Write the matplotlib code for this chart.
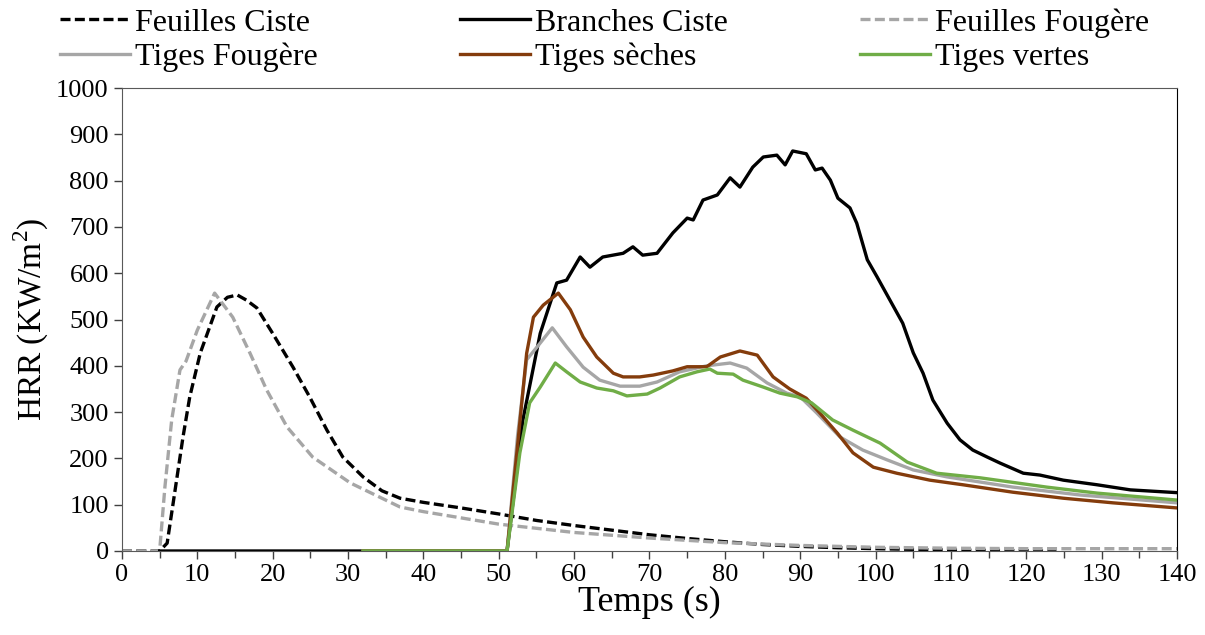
import matplotlib.pyplot as plt
from matplotlib.ticker import MultipleLocator

plt.rcParams['font.family'] = ['Liberation Serif', 'DejaVu Serif']
plt.rcParams['mathtext.fontset'] = 'custom'
plt.rcParams['mathtext.rm'] = 'Liberation Serif'

# Feuilles Ciste (black dashed)
t_fc = [0, 5, 6, 6.8, 8.1, 9, 10.4, 12.6, 14, 15.3, 16.5, 17.9, 20, 22.7, 24.9,
        27.2, 29.3, 32, 34.5, 36.9, 40, 45, 50, 55, 60, 65, 70, 75, 80, 85,
        90, 95, 100, 110, 118, 124]
v_fc = [0, 0, 17, 104, 246, 333, 428, 527, 548, 553, 542, 525, 470, 397, 333,
        261, 203, 160, 130, 114, 105, 93, 80, 66, 55, 45, 35, 27, 20, 14,
        10, 7, 5, 2, 1, 0]

# Feuilles Fougère (grey dashed)
t_ff = [0, 5, 5.7, 6.6, 7.7, 8.5, 10, 12.3, 14.7, 17, 19.2, 21.9, 25.3, 30.3,
        36.9, 40, 50, 60, 70, 80, 90, 100, 110, 120, 130, 140]
v_ff = [0, 0, 138, 283, 391, 410, 477, 557, 505, 427, 348, 268, 203, 147,
        95, 85, 58, 40, 28, 18, 12, 8, 6, 5, 5, 5]

# Branches Ciste (black solid)
t_bc = [5, 51.1, 53.2, 55.5, 57.7, 59, 60.8, 62.1, 63.8, 66.5, 67.8, 69.1, 71,
        73.1, 75, 75.8, 77.1, 79, 80.7, 82, 83.7, 85.1, 86.9, 88, 89, 90.8,
        92, 92.9, 94, 95, 96.6, 97.5, 98.9, 100.2, 101.9, 103.6, 105, 106.3,
        107.6, 109.5, 111.2, 112.9, 114.8, 116.5, 119.6, 121.8, 124.9, 129.4,
        133.8, 140]
v_bc = [0, 0, 283, 470, 579, 585, 635, 613, 635, 643, 657, 639, 643,
        687, 719, 715, 758, 769, 806, 786, 829, 851, 855, 834, 864, 858,
        823, 827, 801, 762, 741, 708, 629, 592, 542, 492, 428, 384,
        326, 276, 240, 218, 203, 190, 168, 164, 153, 143,
        132, 126]

# Tiges Fougère (grey solid)
t_tf = [32, 51.1, 52.5, 53.7, 55.1, 57.1, 59, 61.2, 63.4, 66.1, 68.7, 71, 74,
        77.6, 80.7, 82.9, 85.6, 88.2, 90, 92.2, 95.3, 98.3, 101.5, 105, 109.5,
        118.2, 127.1, 140]
v_tf = [0, 0, 250, 413, 441, 482, 441, 397, 369, 356, 356, 365, 387,
        400, 406, 395, 363, 341, 333, 298, 246, 218, 197, 175, 160,
        138, 121, 104]

# Tiges sèches (brown)
t_ts = [32, 51.1, 52.4, 53.7, 54.6, 55.9, 57.9, 59.5, 61.2, 63, 65.2, 66.5,
        68.7, 70.5, 73.1, 75, 77.6, 79.4, 82, 84.3, 86.4, 88.6, 90.8, 92.6,
        94.9, 97, 99.7, 102.8, 107.2, 111.6, 118.2, 124.9, 131.5, 140]
v_ts = [0, 0, 212, 427, 505, 531, 557, 521, 462, 419, 384, 376,
        376, 380, 389, 398, 398, 419, 432, 423, 376, 350, 330, 298,
        255, 212, 181, 168, 153, 143, 127, 114, 104, 93]

# Tiges vertes (green)
t_tv = [32, 51.1, 52.8, 54.1, 55.5, 57.5, 59, 60.8, 63, 65.2, 67, 69.7, 71.4,
        74, 76.3, 78, 79, 81.1, 82.4, 85.1, 87.3, 89.6, 91.5, 94.3, 97,
        100.6, 104.2, 108.1, 113.9, 122.7, 129.4, 140]
v_tv = [0, 0, 212, 320, 354, 406, 387, 365, 352, 346, 335, 339, 352,
        376, 387, 393, 384, 382, 369, 354, 341, 333, 320, 283, 261,
        233, 192, 168, 158, 138, 125, 110]

fig = plt.figure(figsize=(12.05, 6.35), dpi=100)
ax = fig.add_axes([0.1012, 0.1323, 0.8756, 0.7291])

lw = 2.4
dash = (0, (3, 1.3))
l1, = ax.plot(t_fc, v_fc, color='black', lw=lw, ls=dash)
l3, = ax.plot(t_ff, v_ff, color='#a6a6a6', lw=lw, ls=dash)
l2, = ax.plot(t_bc, v_bc, color='black', lw=lw)
l4, = ax.plot(t_tf, v_tf, color='#a6a6a6', lw=lw)
l5, = ax.plot(t_ts, v_ts, color='#843c0c', lw=lw)
l6, = ax.plot(t_tv, v_tv, color='#70ad47', lw=lw)

ax.set_xlim(0, 140)
ax.set_ylim(0, 1000)
ax.xaxis.set_major_locator(MultipleLocator(10))
ax.xaxis.set_minor_locator(MultipleLocator(5))
ax.yaxis.set_major_locator(MultipleLocator(100))
ax.tick_params(axis='both', which='both', direction='out', colors='#404040',
               labelcolor='black', labelsize=19)
ax.tick_params(which='major', length=6, width=1)
ax.tick_params(which='minor', length=5, width=1)
for s in ['left', 'bottom', 'top']:
    ax.spines[s].set_color('#595959')
ax.spines['right'].set_color('black')

ax.set_xlabel('Temps (s)', fontsize=26, labelpad=0)
ax.set_ylabel('HRR (KW/m$^2$)', fontsize=24, labelpad=4)

# legend columns, each placed on its own
cols = [([l1, l4], ['Feuilles Ciste', 'Tiges Fougère'], 0.0498),
        ([l2, l5], ['Branches Ciste', 'Tiges sèches'], 0.3817),
        ([l3, l6], ['Feuilles Fougère', 'Tiges vertes'], 0.7137)]
for h, lab, x in cols:
    fig.legend(h, lab, loc='center left', bbox_to_anchor=(x, 0.937),
               frameon=False, fontsize=23, handlelength=2.19,
               handletextpad=0.16, labelspacing=0.15, borderpad=0,
               borderaxespad=0)

fig.savefig('out.png', dpi=100)
